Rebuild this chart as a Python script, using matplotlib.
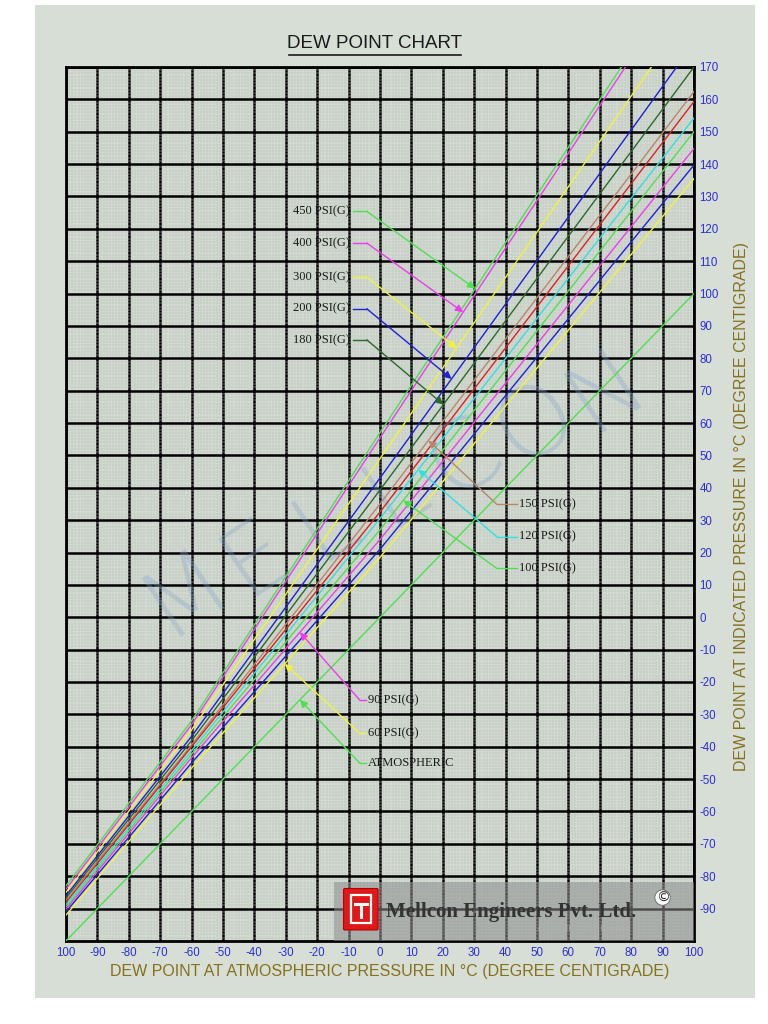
import numpy as np
import matplotlib.pyplot as plt
from matplotlib.patches import Rectangle, FancyBboxPatch
from matplotlib.lines import Line2D

# dew point at atmospheric pressure where each curve was read
adp = [-100, -60, 0, 100]

# dew point at indicated pressure at the adp values
psi450 = [-83.0, -32.0, 57.0, 204.0]
psi400 = [-84.0, -33.2, 55.4, 202.0]
psi300 = [-85.0, -34.8, 49.0, 189.0]
psi200 = [-86.0, -36.8, 43.0, 177.4]
psi180 = [-86.7, -38.1, 39.3, 170.0]
psi150 = [-87.4, -39.4, 35.0, 162.4]
psi_red = [-88.1, -40.0, 32.5, 159.3]
psi120 = [-88.8, -41.2, 30.5, 154.2]
psi100 = [-89.5, -42.3, 27.0, 150.0]
psi90 = [-90.2, -43.4, 24.0, 144.8]
psi_blue = [-91.0, -45.0, 21.0, 139.7]
psi60 = [-92.0, -46.6, 18.5, 135.5]
atmos_x = [-100, 100]
atmos_y = [-100, 100]

curves = [psi450, psi400, psi300, psi200, psi180, psi150, psi_red,
          psi120, psi100, psi90, psi_blue, psi60]
colors = ['#4fe04f', '#ee3cee', '#f2f23a', '#2020d8', '#2a6a2a', '#b8866a',
          '#e02020', '#30e0e0', '#4fe04f', '#ee3cee', '#2020d8', '#f2f23a']

x_ticks = list(range(-100, 101, 10))
x_tick_labels = ['100'] + [str(v) for v in range(-90, 101, 10)]
y_ticks = list(range(-90, 171, 10))

labels = ['450 PSI(G)', '400 PSI(G)', '300 PSI(G)', '200 PSI(G)', '180 PSI(G)',
          '150 PSI(G)', '120 PSI(G)', '100 PSI(G)', '90 PSI(G)', '60 PSI(G)',
          'ATMOSPHERIC']
label_curve = [0, 1, 2, 3, 4, 5, 7, 8, 9, 11, None]
# layout: text anchor, text y, bend x, arrow tip x
label_x = [-9.6, -9.6, -9.6, -9.6, -9.6, 44.4, 44.4, 44.4, -3.9, -3.9, -3.9]
label_ha = ['right'] * 5 + ['left'] * 6
label_y = [125.4, 115.6, 105.1, 95.3, 85.7, 34.9, 24.9, 15.1, -25.6, -35.9, -45.1]
bend_x = [-4.2] * 5 + [37.2] * 3 + [-6.4] * 3
tip_x = [30.3, 26.5, 24.4, 22.8, 20.2, 15.4, 12.2, 7.4, -25.5, -30.3, -25.5]

sans = ['Liberation Sans', 'DejaVu Sans']
serif = ['Liberation Serif', 'DejaVu Serif']
tick_blue = '#2e2ed2'
olive = '#86701c'

fig = plt.figure(figsize=(7.68, 10.24), dpi=100, facecolor='white')
fig.add_artist(Rectangle((0.045, 0.025), 0.938, 0.97, transform=fig.transFigure,
                         facecolor='#d6ded6', edgecolor='none', zorder=0))

ax = fig.add_axes([0.0859, 0.0811, 0.8177, 0.8535])
ax.set_facecolor('#d3dbd3')
ax.set_xlim(-100, 100)
ax.set_ylim(-100, 170)

ax.set_xticks(x_ticks)
ax.set_xticklabels(x_tick_labels, family=sans, fontsize=8.3, color=tick_blue)
ax.set_xticks(np.arange(-100, 101, 1), minor=True)
ax.yaxis.tick_right()
ax.set_yticks(y_ticks)
ax.set_yticklabels([str(v) for v in y_ticks], family=sans, fontsize=8.3, color=tick_blue)
ax.set_yticks(np.arange(-100, 171, 1), minor=True)
ax.tick_params(which='both', length=0)
ax.tick_params(axis='x', pad=4)
ax.tick_params(axis='y', pad=4)
ax.grid(which='minor', color='#bcc6bc', lw=0.35)
ax.grid(which='major', color='black', lw=1.8)
ax.set_axisbelow(True)
for s in ax.spines.values():
    s.set_linewidth(2)

# curves
for c, col in zip(curves, colors):
    ax.plot(adp, c, color=col, lw=1.0, zorder=4)
ax.plot(atmos_x, atmos_y, color='#4fe04f', lw=1.0, zorder=4)

# labels with leaders
for i, txt in enumerate(labels):
    k = label_curve[i]
    if k is None:
        col = '#4fe04f'
        ty = np.interp(tip_x[i], atmos_x, atmos_y)
    else:
        col = colors[k]
        ty = np.interp(tip_x[i], adp, curves[k])
    ax.text(label_x[i], label_y[i], txt, ha=label_ha[i], va='center', family=serif,
            fontsize=9, color='#1a1a1a', zorder=6)
    start = label_x[i] + (0.9 if label_ha[i] == 'right' else -0.6)
    ax.plot([start, bend_x[i]], [label_y[i], label_y[i]], color=col, lw=1.0, zorder=5)
    ax.annotate('', xy=(tip_x[i], ty), xytext=(bend_x[i], label_y[i]),
                arrowprops=dict(arrowstyle='-|>', color=col, lw=1.0,
                                mutation_scale=11, shrinkA=0, shrinkB=0), zorder=5)

# watermark
wm_x = np.linspace(-62, 72, 7)
wm_y = np.linspace(8, 70, 7)
for ch, wx, wy in zip('MELLCON', wm_x, wm_y):
    ax.text(wx, wy, ch, ha='center', va='center', rotation=34, fontsize=70,
            family='DejaVu Sans', fontweight='light', color='#8aa4cc', alpha=0.35, zorder=3)

# company block
ax.add_patch(Rectangle((-14.6, -100), 114.6, 18.2, facecolor='#8e8e8e', alpha=0.55,
                       edgecolor='none', zorder=6))
ax.add_patch(FancyBboxPatch((-11.2, -96.2), 10.2, 12.0, boxstyle='round,pad=0.4',
                            facecolor='#e01818', edgecolor='#b00000', lw=0.8, zorder=7))
ax.add_patch(Rectangle((-9.2, -94.6), 6.2, 8.8, facecolor='none', edgecolor='white',
                       lw=1.6, zorder=8))
ax.plot([-8.0, -4.2], [-88.6, -88.6], color='white', lw=2.2, zorder=8)
ax.plot([-6.1, -6.1], [-88.6, -92.6], color='white', lw=2.2, zorder=8)
ax.text(2.0, -91.0, 'Mellcon Engineers Pvt. Ltd.', ha='left', va='center',
        family=serif, fontweight='bold', fontsize=15, color='#333333', zorder=8)
ax.text(90, -86.6, '\u00a9', ha='center', va='center', fontsize=10, color='#333333',
        bbox=dict(boxstyle='circle,pad=0.05', fc='white', ec='#666666', lw=0.6), zorder=8)
ax.text(50, -96.3, 'An ISO 9001 : 2008 Company', ha='left', va='center',
        family=serif, fontsize=5.5, color='#b0b0b0', zorder=8)

# titles
fig.text(0.488, 0.958, 'DEW POINT CHART', ha='center', va='center', family=sans,
         fontsize=13.5, color='#1a1a1a')
fig.add_artist(Line2D([0.376, 0.600], [0.946, 0.946], transform=fig.transFigure,
                      color='#1a1a1a', lw=1.2))
fig.text(0.508, 0.051, 'DEW POINT AT ATMOSPHERIC PRESSURE IN \u00b0C (DEGREE CENTIGRADE)',
         ha='center', va='center', family=sans, fontsize=11.5, color=olive)
fig.text(0.965, 0.505, 'DEW POINT AT INDICATED PRESSURE IN \u00b0C (DEGREE CENTIGRADE)',
         ha='center', va='center', rotation=90, family=sans, fontsize=11.5, color=olive)

fig.savefig('out.png', dpi=100, facecolor=fig.get_facecolor())
